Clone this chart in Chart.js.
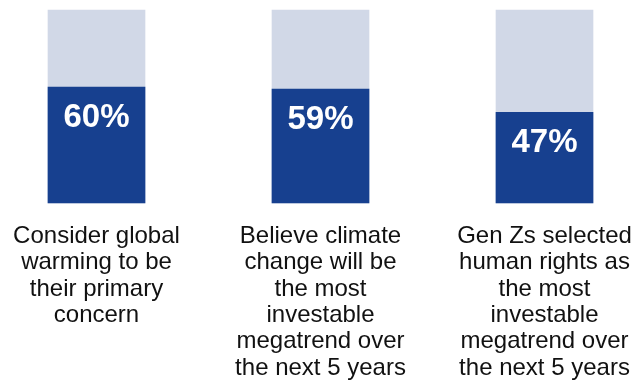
<!DOCTYPE html>
<html>
<head>
<meta charset="utf-8">
<script src="https://cdn.jsdelivr.net/npm/chart.js@4"></script>
<style>
  body { margin: 0; background: #fff; }
</style>
</head>
<body>
<canvas id="chart" width="640" height="383"></canvas>
<script>
// survey findings
var categories = [
  ['Consider global', 'warming to be', 'their primary', 'concern'],
  ['Believe climate', 'change will be', 'the most', 'investable', 'megatrend over', 'the next 5 years'],
  ['Gen Zs selected', 'human rights as', 'the most', 'investable', 'megatrend over', 'the next 5 years']
];
var sharePct = [60, 59, 47];
var totalPct = [100, 100, 100];

var FONT = "'Liberation Sans', Arial, sans-serif";

// white % labels inside the dark bars
var valueLabels = {
  id: 'valueLabels',
  afterDatasetsDraw(chart) {
    const ctx = chart.ctx;
    const meta = chart.getDatasetMeta(0);
    ctx.save();
    ctx.fillStyle = '#ffffff';
    ctx.font = 'bold 33px ' + FONT;
    ctx.textAlign = 'center';
    ctx.textBaseline = 'middle';
    meta.data.forEach((bar, i) => {
      ctx.fillText(sharePct[i] + '%', bar.x, bar.y + 31);
    });
    ctx.restore();
  }
};

new Chart(document.getElementById('chart'), {
  type: 'bar',
  data: {
    labels: categories,
    datasets: [
      {
        label: 'share',
        data: sharePct,
        backgroundColor: '#17408f',
        barThickness: 97,
        clip: false,
      },
      {
        label: 'total',
        data: totalPct,
        backgroundColor: '#d1d8e7',
        barThickness: 97,
        clip: false,
      },
    ],
  },
  options: {
    responsive: false,
    animation: false,
    layout: {
      padding: { left: 0, right: 0, top: 10, bottom: 0 },
    },
    plugins: {
      legend: { display: false },
      tooltip: { enabled: false },
    },
    scales: {
      x: {
        stacked: true,
        offset: false,
        grid: { display: false, drawTicks: false },
        border: { display: false },
        ticks: {
          color: '#111111',
          padding: 20,
          maxRotation: 0,
          autoSkip: false,
          font: { family: FONT, size: 24, lineHeight: 1.1 },
        },
        afterFit(scale) {
          scale.height = 180;
          scale.paddingLeft = 96.5;
          scale.paddingRight = 95.5;
        },
      },
      y: {
        display: false,
        min: 0,
        max: 100,
      },
    },
  },
  plugins: [valueLabels],
});
</script>
</body>
</html>
